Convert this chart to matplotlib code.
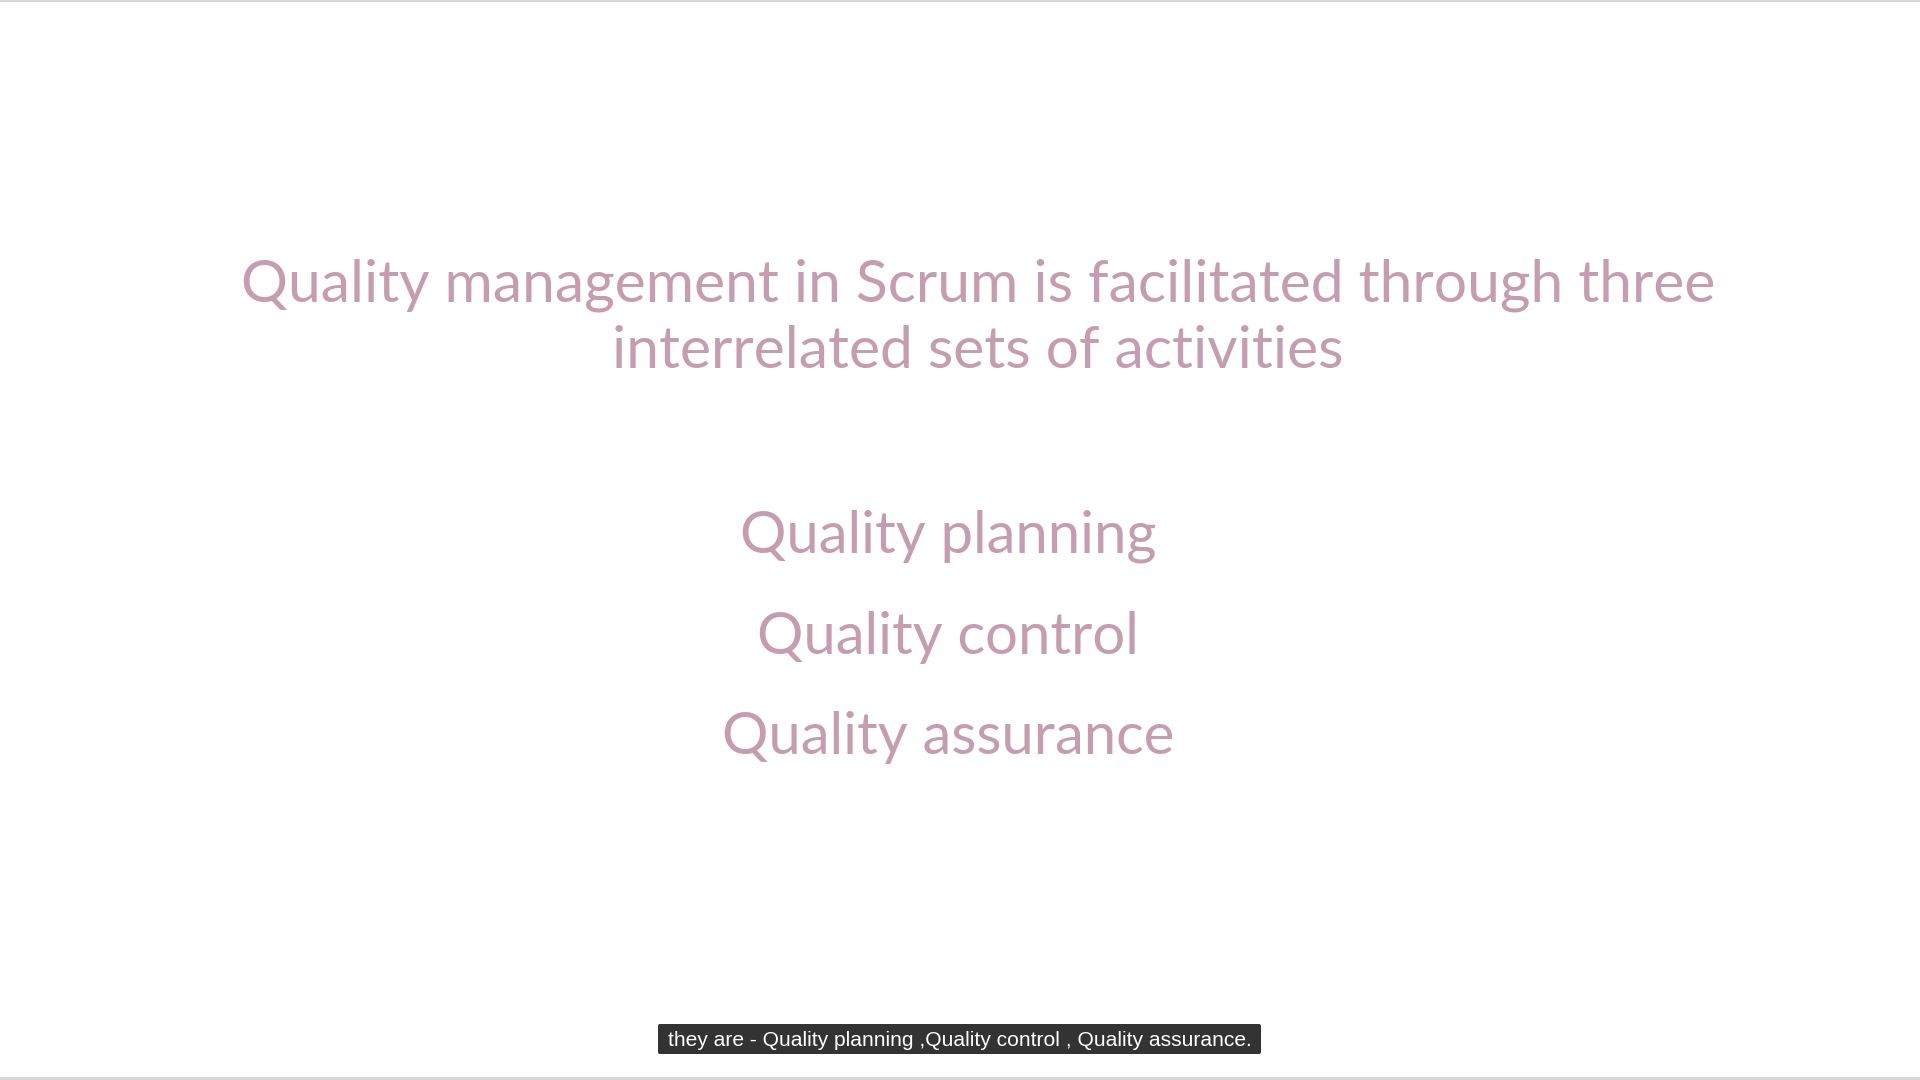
import matplotlib
matplotlib.use("Agg")
import matplotlib.pyplot as plt
from matplotlib.patches import Rectangle, FancyBboxPatch

# Slide text
title_lines = ["Quality management in Scrum is facilitated through three",
               "interrelated sets of activities"]
activities = ["Quality planning", "Quality control", "Quality assurance"]
caption = "they are - Quality planning ,Quality control , Quality assurance."

W, H = 1920, 1080
fig = plt.figure(figsize=(19.2, 10.8), dpi=100)
ax = fig.add_axes([0, 0, 1, 1])
ax.set_xlim(0, W)
ax.set_ylim(H, 0)
ax.axis("off")

text_color = "#c59db0"
font = ["Lato", "DejaVu Sans"]

# thin grey borders top and bottom
ax.add_patch(Rectangle((0, 0), W, 2, color="#d8d8d8", lw=0))
ax.add_patch(Rectangle((0, 1077), W, 3, color="#d8d8d8", lw=0))

# Title
title_y = [285, 352]
for line, y in zip(title_lines, title_y):
    ax.text(978, y, line, ha="center", va="center", fontsize=42.3,
            color=text_color, family=font, fontweight="normal")

# Activities
item_y = [536, 638, 738]
for item, y in zip(activities, item_y):
    ax.text(948, y, item, ha="center", va="center", fontsize=41.8,
            color=text_color, family=font, fontweight="normal")

# Subtitle caption box
ax.add_patch(FancyBboxPatch((658, 1024), 603, 30,
                            boxstyle="round,pad=0,rounding_size=2",
                            facecolor="#333333", edgecolor="none"))
ax.text(959.5, 1040, caption, ha="center", va="center", fontsize=15.1,
        color="white", family=["Liberation Sans", "DejaVu Sans"])

fig.savefig("out.png", dpi=100, facecolor="white")
